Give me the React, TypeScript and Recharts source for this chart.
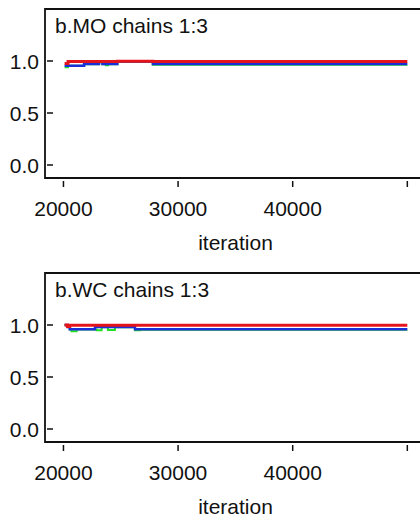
import React from "react";
import { LineChart, Line, XAxis, YAxis, ReferenceArea } from "recharts";

// iteration breakpoints and chain values (step lines)
const iterMO = [20100, 20400, 21800, 23100, 23400, 23700, 23900, 24700, 27800, 35000, 42000, 50000];
const chain1MO = [0.955, 0.955, 0.972, 0.99, 0.972, 0.972, 0.972, 0.995, 0.971, 0.971, 0.971, 0.971];
const chain2MO = [0.975, 0.994, 0.994, 0.996, 0.994, 0.994, 0.994, 0.998, 0.995, 0.995, 0.995, 0.995];
const chain3MO = [0.94, 0.955, 0.968, 0.988, 0.968, 0.96, 0.968, 0.993, 0.963, 0.963, 0.963, 0.963];

const iterWC = [20100, 20350, 20550, 20700, 21150, 22750, 22900, 23330, 23880, 24490, 26240, 26680, 35000, 42000, 50000];
const chain1WC = [1.0, 0.98, 0.96, 0.96, 0.96, 0.98, 0.98, 0.98, 0.98, 0.98, 0.96, 0.96, 0.96, 0.96, 0.96];
const chain2WC = [1.0, 0.985, 0.998, 0.998, 0.998, 0.998, 0.998, 0.998, 0.998, 0.998, 0.998, 0.998, 0.998, 0.998, 0.998];
const chain3WC = [1.0, 0.98, 0.956, 0.94, 0.956, 0.956, 0.95, 0.978, 0.952, 0.978, 0.95, 0.955, 0.955, 0.955, 0.955];

const xTicks = [20000, 30000, 40000, 50000];
const yTicks = [0, 0.5, 1.0];
const xDomain = [18390, 51630];
const yDomain = [-0.125, 1.5];

const FONT = "'Liberation Sans', Arial, sans-serif";

const YTick = (props: any) => {
  const { x, y, payload } = props;
  return (
    <g>
      <line x1={x + 2} x2={x + 8} y1={y} y2={y} stroke="#111" strokeWidth={1.5} />
      <text x={x - 6} y={y + 7.5} textAnchor="end" fontSize={21} fontFamily={FONT} fill="#111">
        {Number(payload.value).toFixed(1)}
      </text>
    </g>
  );
};

const XTick = (props: any) => {
  const { x, y, payload } = props;
  return (
    <g>
      <line x1={x} x2={x} y1={y + 3} y2={y + 9} stroke="#111" strokeWidth={1.5} />
      {payload.value !== 50000 && (
        <text x={x} y={y + 37.5} textAnchor="middle" fontSize={21} fontFamily={FONT} fill="#111">
          {payload.value}
        </text>
      )}
    </g>
  );
};

function Panel({ title, iters, c1, c2, c3 }: { title: string; iters: number[]; c1: number[]; c2: number[]; c3: number[] }) {
  const data = iters.map((iter, i) => ({ iter, c1: c1[i], c2: c2[i], c3: c3[i] }));
  return (
    <div style={{ position: "relative", width: 440, height: 264 }}>
      <LineChart width={440} height={264} data={data} margin={{ top: 9, right: 14, left: 0, bottom: 0 }}>
        <XAxis
          dataKey="iter"
          type="number"
          domain={xDomain}
          ticks={xTicks}
          interval={0}
          allowDataOverflow
          axisLine={false}
          tickLine={false}
          tickSize={0}
          tickMargin={0}
          tick={<XTick />}
          height={86}
          label={{ value: "iteration", position: "insideBottom", offset: 14, fill: "#111", fontSize: 21, fontFamily: FONT }}
        />
        <YAxis
          type="number"
          domain={yDomain}
          ticks={yTicks}
          interval={0}
          allowDataOverflow
          axisLine={false}
          tickLine={false}
          tickSize={0}
          tickMargin={0}
          tick={<YTick />}
          width={45}
        />
        <ReferenceArea
          x1={xDomain[0]}
          x2={xDomain[1]}
          y1={yDomain[0]}
          y2={yDomain[1]}
          fill="none"
          fillOpacity={0}
          stroke="#111"
          strokeWidth={1.8}
          ifOverflow="visible"
        />
        <Line type="stepAfter" dataKey="c3" stroke="#22e022" strokeWidth={2} dot={false} isAnimationActive={false} />
        <Line type="stepAfter" dataKey="c1" stroke="#1a2fd8" strokeWidth={2.5} dot={false} isAnimationActive={false} />
        <Line type="stepAfter" dataKey="c2" stroke="#e4141c" strokeWidth={3} dot={false} isAnimationActive={false} />
      </LineChart>
      <div
        style={{
          position: "absolute",
          left: 55,
          top: 14.5,
          fontSize: 21,
          lineHeight: "21px",
          fontFamily: FONT,
          color: "#111",
          whiteSpace: "nowrap",
        }}
      >
        {title}
      </div>
    </div>
  );
}

export default function App() {
  return (
    <div style={{ position: "absolute", left: 0, top: 0, width: 420, height: 516, overflow: "hidden", background: "#fff" }}>
      <Panel title="b.MO chains 1:3" iters={iterMO} c1={chain1MO} c2={chain2MO} c3={chain3MO} />
      <Panel title="b.WC chains 1:3" iters={iterWC} c1={chain1WC} c2={chain2WC} c3={chain3WC} />
    </div>
  );
}
